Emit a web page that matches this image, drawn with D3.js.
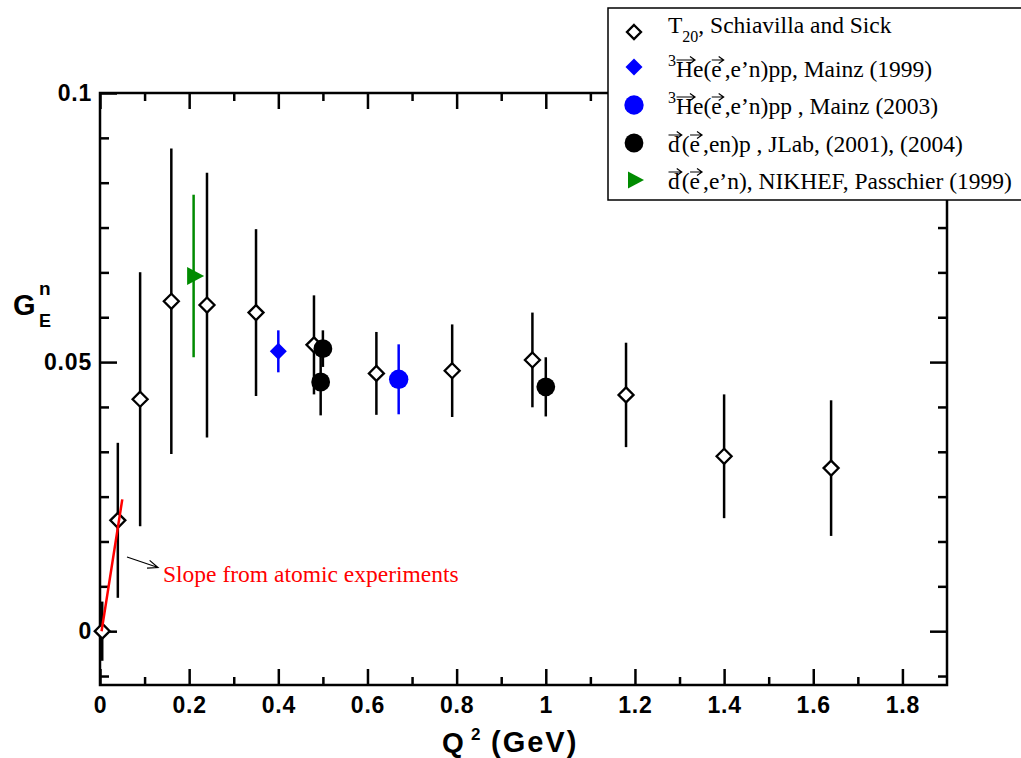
<!DOCTYPE html>
<html>
<head>
<meta charset="utf-8">
<script src="https://cdn.jsdelivr.net/npm/d3@7"></script>
<style>
  body { margin: 0; background: #fff; }
  svg { display: block; }
</style>
</head>
<body>
<script>
const width = 1021;
const height = 758;
const margin = { l: 100, r: 74, t: 93, b: 73 };
const sansFont = "'Liberation Sans', Arial, Helvetica, sans-serif";
const serifFont = "'Liberation Serif', 'Times New Roman', serif";
const colors = { blue: "#0000ff", green: "#008b00", red: "#ff0000" };

// T20, Schiavilla and Sick
const t20Q2 = [0.005, 0.04, 0.09, 0.16, 0.24, 0.35, 0.48, 0.62, 0.79, 0.97, 1.18, 1.4, 1.64];
const t20G = [0.0, 0.0206, 0.0431, 0.0613, 0.0606, 0.0592, 0.0532, 0.0479, 0.0484, 0.0504, 0.0439, 0.0325, 0.0303];
const t20Err = [0.0055, 0.0144, 0.0236, 0.0284, 0.0246, 0.0155, 0.0092, 0.0077, 0.0086, 0.0088, 0.0097, 0.0115, 0.0126];

// 3He(e,e'n)pp, Mainz (1999)
const mainz99Q2 = [0.4];
const mainz99G = [0.052];
const mainz99Err = [0.0039];

// 3He(e,e'n)pp, Mainz (2003)
const mainz03Q2 = [0.67];
const mainz03G = [0.0468];
const mainz03Err = [0.0065];

// d(e,en)p, JLab (2001), (2004)
const jlabQ2 = [0.495, 0.5, 1.0];
const jlabG = [0.0463, 0.0525, 0.0454];
const jlabErr = [0.0062, 0.0034, 0.0055];

// d(e,e'n), NIKHEF, Passchier (1999)
const nikhefQ2 = [0.21];
const nikhefG = [0.066];
const nikhefErr = [0.0151];

// slope from atomic experiments
const slopeQ2 = [0.0035, 0.01, 0.05];
const slopeG = [0.0, 0.0034, 0.0245];

const xTicks = [0, 0.2, 0.4, 0.6, 0.8, 1, 1.2, 1.4, 1.6, 1.8];
const xTickLabels = ["0", "0.2", "0.4", "0.6", "0.8", "1", "1.2", "1.4", "1.6", "1.8"];
const xMinorTicks = [0.1, 0.3, 0.5, 0.7, 0.9, 1.1, 1.3, 1.5, 1.7];
const yTicks = [0, 0.05, 0.1];
const yTickLabels = ["0", "0.05", "0.1"];
const yMinorStep = 0.05 / 6;

const x = d3.scaleLinear().domain([0, 1.9]).range([margin.l, width - margin.r]);
const y = d3.scaleLinear().domain([-0.01, 0.1]).range([height - margin.b, margin.t]);

const zip = (q, g, e) => q.map((d, i) => ({ q: d, g: g[i], e: e ? e[i] : 0 }));

const svg = d3.select("body").append("svg")
  .attr("width", width)
  .attr("height", height)
  .style("background", "#fff");

// ---- axes ----
const styleAxis = (g) => {
  g.select(".domain").remove();
  g.selectAll(".tick line").attr("stroke", "#000").attr("stroke-width", 2.5);
  g.selectAll(".tick text")
    .attr("fill", "#000")
    .style("font-family", sansFont)
    .style("font-weight", "bold")
    .style("font-size", "23px")
    .style("letter-spacing", "0.8px");
};

const yMinor = d3.range(-1, 12).filter((i) => i % 6 !== 0).map((i) => i * yMinorStep);

svg.append("g")
  .attr("transform", `translate(0,${y.range()[0]})`)
  .call(d3.axisBottom(x).tickValues(xTicks).tickSizeInner(-16).tickSizeOuter(0).tickPadding(11.5)
    .tickFormat((d, i) => xTickLabels[i]))
  .call(styleAxis);
svg.append("g")
  .attr("transform", `translate(0,${y.range()[0]})`)
  .call(d3.axisBottom(x).tickValues(xMinorTicks).tickSizeInner(-8).tickSizeOuter(0).tickFormat(""))
  .call(styleAxis);
svg.append("g")
  .attr("transform", `translate(0,${y.range()[1]})`)
  .call(d3.axisTop(x).tickValues(xTicks).tickSizeInner(-16).tickSizeOuter(0).tickFormat(""))
  .call(styleAxis);
svg.append("g")
  .attr("transform", `translate(0,${y.range()[1]})`)
  .call(d3.axisTop(x).tickValues(xMinorTicks).tickSizeInner(-8).tickSizeOuter(0).tickFormat(""))
  .call(styleAxis);

svg.append("g")
  .attr("transform", `translate(${x.range()[0]},0)`)
  .call(d3.axisLeft(y).tickValues(yTicks).tickSizeInner(-17).tickSizeOuter(0).tickPadding(8)
    .tickFormat((d, i) => yTickLabels[i]))
  .call(styleAxis);
svg.append("g")
  .attr("transform", `translate(${x.range()[0]},0)`)
  .call(d3.axisLeft(y).tickValues(yMinor).tickSizeInner(-9).tickSizeOuter(0).tickFormat(""))
  .call(styleAxis);
svg.append("g")
  .attr("transform", `translate(${x.range()[1]},0)`)
  .call(d3.axisRight(y).tickValues(yTicks).tickSizeInner(-17).tickSizeOuter(0).tickFormat(""))
  .call(styleAxis);
svg.append("g")
  .attr("transform", `translate(${x.range()[1]},0)`)
  .call(d3.axisRight(y).tickValues(yMinor).tickSizeInner(-9).tickSizeOuter(0).tickFormat(""))
  .call(styleAxis);

svg.append("rect")
  .attr("x", x.range()[0])
  .attr("y", y.range()[1])
  .attr("width", x.range()[1] - x.range()[0])
  .attr("height", y.range()[0] - y.range()[1])
  .attr("fill", "none")
  .attr("stroke", "#000")
  .attr("stroke-width", 2.5);

// axis titles
const xTitle = svg.append("g")
  .style("font-family", sansFont)
  .style("font-weight", "bold");
xTitle.append("text").attr("x", 442).attr("y", 752).style("font-size", "28px").text("Q");
xTitle.append("text").attr("x", 471).attr("y", 740).style("font-size", "17px").text("2");
xTitle.append("text").attr("x", 491).attr("y", 752).style("font-size", "29px")
  .style("letter-spacing", "2px").text("(GeV)");

const yTitle = svg.append("g")
  .style("font-family", sansFont)
  .style("font-weight", "bold");
yTitle.append("text").attr("x", 13).attr("y", 315).style("font-size", "29px").text("G");
yTitle.append("text").attr("x", 39).attr("y", 295).style("font-size", "19px").text("n");
yTitle.append("text").attr("x", 39).attr("y", 327).style("font-size", "18px").text("E");

// ---- markers ----
const diamond = (s) => `M0,${-s}L${s},0L0,${s}L${-s},0Z`;
const triangleRight = (w, h) => `M${-w / 2},${-h / 2}L${w / 2},0L${-w / 2},${h / 2}Z`;

const drawErrors = (data, color) => {
  svg.append("g")
    .selectAll("line")
    .data(data)
    .join("line")
    .attr("x1", (d) => x(d.q))
    .attr("x2", (d) => x(d.q))
    .attr("y1", (d) => y(d.g - d.e))
    .attr("y2", (d) => y(d.g + d.e))
    .attr("stroke", color)
    .attr("stroke-width", 2.5);
};

const t20 = zip(t20Q2, t20G, t20Err);
drawErrors(t20, "#000");
svg.append("g")
  .selectAll("path")
  .data(t20)
  .join("path")
  .attr("transform", (d) => `translate(${x(d.q)},${y(d.g)})`)
  .attr("d", diamond(7.5))
  .attr("fill", "#fff")
  .attr("stroke", "#000")
  .attr("stroke-width", 2.3);

const mainz99 = zip(mainz99Q2, mainz99G, mainz99Err);
drawErrors(mainz99, colors.blue);
svg.append("g")
  .selectAll("path")
  .data(mainz99)
  .join("path")
  .attr("transform", (d) => `translate(${x(d.q)},${y(d.g)})`)
  .attr("d", diamond(8.5))
  .attr("fill", colors.blue);

const mainz03 = zip(mainz03Q2, mainz03G, mainz03Err);
drawErrors(mainz03, colors.blue);
svg.append("g")
  .selectAll("circle")
  .data(mainz03)
  .join("circle")
  .attr("cx", (d) => x(d.q))
  .attr("cy", (d) => y(d.g))
  .attr("r", 9.7)
  .attr("fill", colors.blue);

const jlab = zip(jlabQ2, jlabG, jlabErr);
drawErrors(jlab, "#000");
svg.append("g")
  .selectAll("circle")
  .data(jlab)
  .join("circle")
  .attr("cx", (d) => x(d.q))
  .attr("cy", (d) => y(d.g))
  .attr("r", 9.4)
  .attr("fill", "#000");

const nikhef = zip(nikhefQ2, nikhefG, nikhefErr);
drawErrors(nikhef, colors.green);
svg.append("g")
  .selectAll("path")
  .data(nikhef)
  .join("path")
  .attr("transform", (d) => `translate(${x(d.q) + 2},${y(d.g)})`)
  .attr("d", triangleRight(17, 18))
  .attr("fill", colors.green);

// slope line
svg.append("path")
  .datum(zip(slopeQ2, slopeG))
  .attr("d", d3.line().x((d) => x(d.q)).y((d) => y(d.g)))
  .attr("fill", "none")
  .attr("stroke", colors.red)
  .attr("stroke-width", 2.5);

// annotation arrow + text
const arrowFrom = [127, 557];
const arrowTo = [158, 567.5];
const ang = Math.atan2(arrowTo[1] - arrowFrom[1], arrowTo[0] - arrowFrom[0]);
const barb = (a) => [arrowTo[0] - 11 * Math.cos(ang + a), arrowTo[1] - 11 * Math.sin(ang + a)];
svg.append("path")
  .attr("d", `M${arrowFrom}L${arrowTo}M${barb(0.38)}L${arrowTo}L${barb(-0.38)}`)
  .attr("fill", "none")
  .attr("stroke", "#000")
  .attr("stroke-width", 1.2);
svg.append("text")
  .attr("x", 163)
  .attr("y", 582)
  .attr("fill", colors.red)
  .style("font-family", serifFont)
  .style("font-size", "23.5px")
  .text("Slope from atomic experiments");

// ---- legend ----
const legend = svg.append("g");
legend.append("rect")
  .attr("x", 608)
  .attr("y", 8)
  .attr("width", 430)
  .attr("height", 192)
  .attr("fill", "#fff")
  .attr("stroke", "#000")
  .attr("stroke-width", 1.5);

const legendSize = 23.5;
const legendX = 668;
const symbolX = 634;

const vecOver = (textNode, idx, baseline) => {
  const box = textNode.getExtentOfChar(idx);
  const x0 = box.x + 0.5;
  const x1 = box.x + box.width + 2;
  const yy = baseline - 17;
  legend.append("path")
    .attr("d", `M${x0},${yy}L${x1},${yy}M${x1 - 5},${yy - 3.5}L${x1},${yy}L${x1 - 5},${yy + 3.5}`)
    .attr("fill", "none")
    .attr("stroke", "#000")
    .attr("stroke-width", 1.2);
};

const legendText = (baseline) =>
  legend.append("text")
    .attr("x", legendX)
    .attr("y", baseline)
    .attr("fill", "#000")
    .style("font-family", serifFont)
    .style("font-size", legendSize + "px");

// row 1
legend.append("path").attr("transform", `translate(${symbolX},32)`).attr("d", diamond(7))
  .attr("fill", "#fff").attr("stroke", "#000").attr("stroke-width", 2.3);
const r1 = legendText(33);
r1.append("tspan").text("T");
r1.append("tspan").attr("dy", 9).style("font-size", "16px").text("20");
r1.append("tspan").attr("dy", -9).text(", Schiavilla and Sick");

// row 2
legend.append("path").attr("transform", `translate(${symbolX},67)`).attr("d", diamond(8.5))
  .attr("fill", colors.blue);
const r2 = legendText(77);
r2.append("tspan").attr("dy", -11).style("font-size", "16px").text("3");
r2.append("tspan").attr("dy", 11).text("He(");
r2.append("tspan").text("e");
r2.append("tspan").attr("dx", 3).text(",e\u2019n)pp, Mainz (1999)");
vecOver(r2.node(), 1, 77);
vecOver(r2.node(), 4, 77);

// row 3
legend.append("circle").attr("cx", symbolX).attr("cy", 105).attr("r", 9.7).attr("fill", colors.blue);
const r3 = legendText(114);
r3.append("tspan").attr("dy", -11).style("font-size", "16px").text("3");
r3.append("tspan").attr("dy", 11).text("He(");
r3.append("tspan").text("e");
r3.append("tspan").attr("dx", 3).text(",e\u2019n)pp , Mainz (2003)");
vecOver(r3.node(), 1, 114);
vecOver(r3.node(), 4, 114);

// row 4
legend.append("circle").attr("cx", symbolX).attr("cy", 143).attr("r", 9.4).attr("fill", "#000");
const r4 = legendText(152);
r4.append("tspan").text("d");
r4.append("tspan").attr("dx", 2).text("(e");
r4.append("tspan").attr("dx", 3).text(",en)p , JLab, (2001), (2004)");
vecOver(r4.node(), 0, 152);
vecOver(r4.node(), 2, 152);

// row 5
legend.append("path").attr("transform", `translate(${symbolX + 2},180)`).attr("d", triangleRight(16, 17))
  .attr("fill", colors.green);
const r5 = legendText(189);
r5.append("tspan").text("d");
r5.append("tspan").attr("dx", 2).text("(e");
r5.append("tspan").attr("dx", 3).text(",e\u2019n), NIKHEF, Passchier (1999)");
vecOver(r5.node(), 0, 189);
vecOver(r5.node(), 2, 189);
</script>
</body>
</html>
